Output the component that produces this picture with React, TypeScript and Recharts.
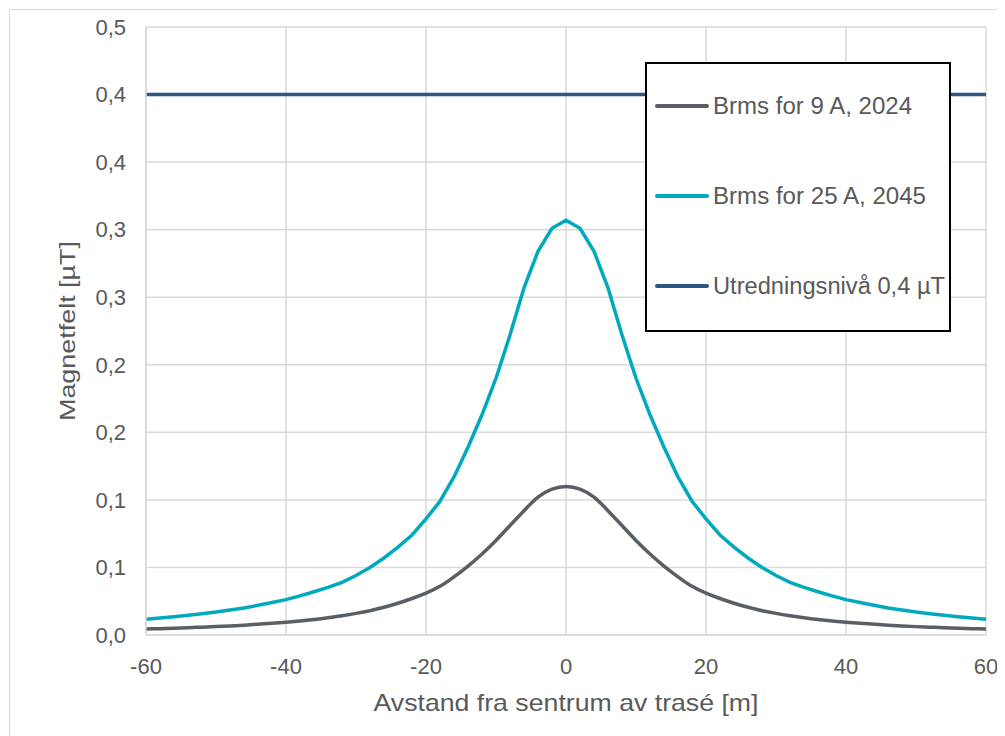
import React from 'react';
import { LineChart, Line, XAxis, YAxis, CartesianGrid } from 'recharts';

// Avstand fra sentrum av trasé [m], 2 m steg
const avstand = [
  -60, -58, -56, -54, -52, -50, -48, -46, -44, -42, -40, -38, -36, -34, -32, -30,
  -28, -26, -24, -22, -20, -18, -16, -14, -12, -10, -8, -6, -4, -2, 0,
  2, 4, 6, 8, 10, 12, 14, 16, 18, 20, 22, 24, 26, 28, 30,
  32, 34, 36, 38, 40, 42, 44, 46, 48, 50, 52, 54, 56, 58, 60,
];

// Brms for 9 A, 2024 [µT]
const brms9A = [
  0.0044, 0.0047, 0.005, 0.0054, 0.0058, 0.0062, 0.0067, 0.0073, 0.008, 0.0087, 0.0095,
  0.0104, 0.0115, 0.0128, 0.0143, 0.016, 0.018, 0.0205, 0.0235, 0.027, 0.031,
  0.036, 0.043, 0.051, 0.06, 0.07, 0.081, 0.092, 0.102, 0.108, 0.11,
  0.108, 0.102, 0.092, 0.081, 0.07, 0.06, 0.051, 0.043, 0.036, 0.031,
  0.027, 0.0235, 0.0205, 0.018, 0.016, 0.0143, 0.0128, 0.0115, 0.0104, 0.0095,
  0.0087, 0.008, 0.0073, 0.0067, 0.0062, 0.0058, 0.0054, 0.005, 0.0047, 0.0044,
];

// Brms for 25 A, 2045 [µT]
const brms25A = [
  0.0116, 0.0125, 0.0135, 0.0146, 0.0158, 0.017, 0.0185, 0.02, 0.022, 0.024, 0.0262,
  0.029, 0.032, 0.0352, 0.039, 0.044, 0.05, 0.057, 0.065, 0.074, 0.086,
  0.099, 0.117, 0.139, 0.163, 0.19, 0.222, 0.257, 0.284, 0.301, 0.307,
  0.301, 0.284, 0.257, 0.222, 0.19, 0.163, 0.139, 0.117, 0.099, 0.086,
  0.074, 0.065, 0.057, 0.05, 0.044, 0.039, 0.0352, 0.032, 0.029, 0.0262,
  0.024, 0.022, 0.02, 0.0185, 0.017, 0.0158, 0.0146, 0.0135, 0.0125, 0.0116,
];

// Utredningsnivå [µT]
const utredningsniva = 0.4;

const xTicks = [-60, -40, -20, 0, 20, 40, 60];
const yTicks = [0, 0.05, 0.1, 0.15, 0.2, 0.25, 0.3, 0.35, 0.4, 0.45];
const yTickLabels = ['0,0', '0,1', '0,1', '0,2', '0,2', '0,3', '0,3', '0,4', '0,4', '0,5'];

const seriesNames = ['Brms for 9 A, 2024', 'Brms for 25 A, 2045', 'Utredningsnivå 0,4 µT'];
const seriesColors = ['#595f65', '#00a9bd', '#2d5680'];
// measured text widths in the reference legend
const legendTextWidths = [199, 213, 232];

const data = avstand.map((x, i) => ({
  x,
  b9: brms9A[i],
  b25: brms25A[i],
  niva: utredningsniva,
}));

const FONT = '"Liberation Sans", Arial, sans-serif';
const TEXT = '#595959';
const GRID = '#d9d9d9';

// legend box drawn over the plot (as in the original)
const LegendBox = () => (
  <svg width={306} height={270} style={{ position: 'absolute', left: 635, top: 52 }}>
    <rect x={1} y={1} width={304} height={268} fill="#fff" stroke="#000" strokeWidth={2} />
    {seriesNames.map((name, i) => {
      const y = 44 + i * 90;
      return (
        <g key={name}>
          <line x1={12} x2={62} y1={y} y2={y} stroke={seriesColors[i]} strokeWidth={4} strokeLinecap="round" />
          <text
            x={68}
            y={y + 8}
            fontSize={23}
            fontFamily={FONT}
            fill={TEXT}
            textLength={legendTextWidths[i]}
            lengthAdjust="spacingAndGlyphs"
          >
            {name}
          </text>
        </g>
      );
    })}
  </svg>
);

const App = () => {
  return (
    <div
      style={{
        position: 'relative',
        top: 1,
        left: 1,
        width: 996,
        height: 727,
        borderTop: `1px solid ${GRID}`,
        borderLeft: `1px solid ${GRID}`,
        background: '#fff',
        overflow: 'hidden',
      }}
    >
      <LineChart width={995} height={727} data={data} margin={{ top: 17, right: 19, bottom: 42, left: 0 }}>
        <CartesianGrid stroke={GRID} strokeWidth={1.5} />
        <XAxis
          dataKey="x"
          type="number"
          domain={[-60, 60]}
          ticks={xTicks}
          height={60}
          stroke={GRID}
          strokeWidth={1.5}
          tickLine={false}
          tickMargin={17}
          tick={{ fill: TEXT, fontSize: 22, fontFamily: FONT }}
          label={{
            content: ({ viewBox }: any) => (
              <text
                x={viewBox.x + viewBox.width / 2}
                y={viewBox.y + 76}
                textAnchor="middle"
                fill={TEXT}
                fontSize={24}
                fontFamily={FONT}
                textLength={385}
                lengthAdjust="spacingAndGlyphs"
              >
                Avstand fra sentrum av trasé [m]
              </text>
            ),
          }}
        />
        <YAxis
          type="number"
          domain={[0, 0.45]}
          ticks={yTicks}
          width={136}
          stroke={GRID}
          strokeWidth={1.5}
          tickLine={false}
          tickMargin={14}
          tickFormatter={(v: number) => yTickLabels[yTicks.indexOf(v)] ?? String(v)}
          tick={{ fill: TEXT, fontSize: 22, fontFamily: FONT }}
          label={{
            content: ({ viewBox }: any) => {
              const cx = viewBox.x + 57;
              const cy = viewBox.y + viewBox.height / 2;
              return (
                <text
                  x={cx}
                  y={cy}
                  transform={`rotate(-90, ${cx}, ${cy})`}
                  textAnchor="middle"
                  dominantBaseline="central"
                  fill={TEXT}
                  fontSize={22}
                  fontFamily={FONT}
                  textLength={180}
                  lengthAdjust="spacingAndGlyphs"
                >
                  Magnetfelt [µT]
                </text>
              );
            },
          }}
        />
        <Line
          dataKey="b9"
          name={seriesNames[0]}
          type="natural"
          stroke={seriesColors[0]}
          strokeWidth={3.5}
          dot={false}
          isAnimationActive={false}
        />
        <Line
          dataKey="b25"
          name={seriesNames[1]}
          type="linear"
          stroke={seriesColors[1]}
          strokeWidth={3.5}
          dot={false}
          isAnimationActive={false}
        />
        <Line
          dataKey="niva"
          name={seriesNames[2]}
          type="linear"
          stroke={seriesColors[2]}
          strokeWidth={3.5}
          dot={false}
          isAnimationActive={false}
        />
      </LineChart>
      <LegendBox />
    </div>
  );
};

export default App;
